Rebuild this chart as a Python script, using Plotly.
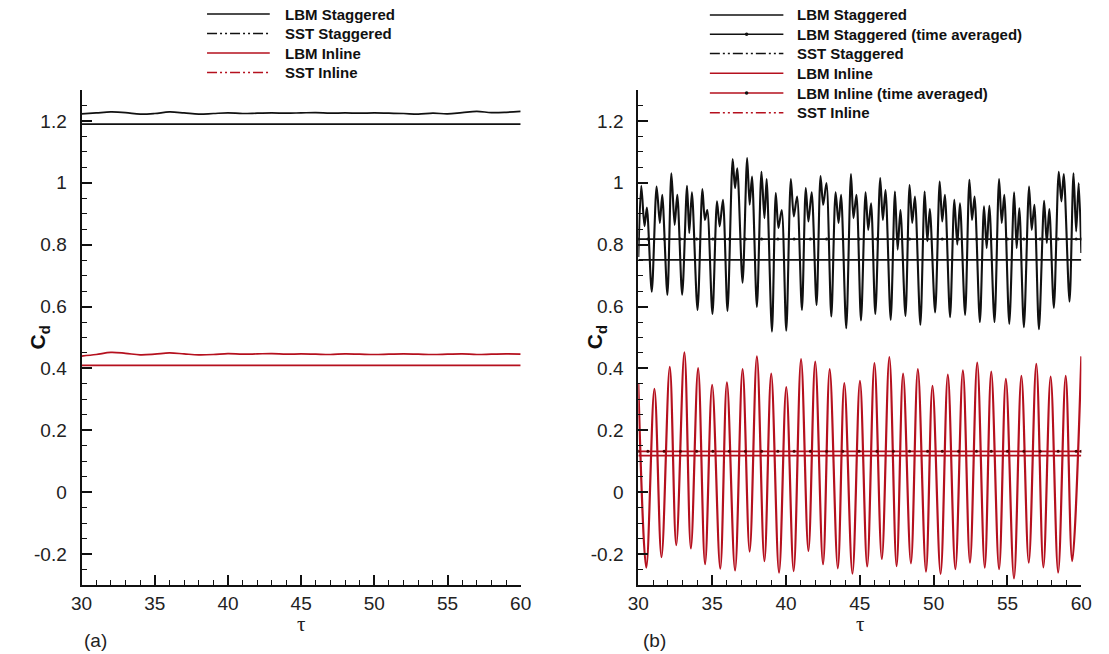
import plotly.graph_objects as go

# ---------------- data ----------------
# panel (a)
a_tau = list(range(30, 61))
a_lbm_stag = [1.223, 1.226, 1.229, 1.227, 1.222, 1.224, 1.229, 1.226, 1.222, 1.224, 1.226,
              1.224, 1.225, 1.226, 1.225, 1.226, 1.227, 1.225, 1.226, 1.225, 1.226, 1.225,
              1.224, 1.222, 1.225, 1.223, 1.227, 1.231, 1.227, 1.228, 1.231]
a_lbm_inl = [0.440, 0.445, 0.452, 0.449, 0.444, 0.446, 0.450, 0.447, 0.444, 0.445, 0.448,
             0.446, 0.447, 0.448, 0.446, 0.447, 0.446, 0.445, 0.447, 0.446, 0.445, 0.446,
             0.447, 0.446, 0.445, 0.446, 0.447, 0.445, 0.446, 0.447, 0.446]
sst_tau = [30, 60]
a_sst_stag = [1.19, 1.19]
a_sst_inl = [0.41, 0.41]

# panel (b) - LBM staggered (extrema)
b_stag_tau = [30.00, 30.20, 30.42, 30.58, 30.91, 31.24, 31.46, 31.62, 31.97, 32.24, 32.46, 32.64,
              32.97, 33.30, 33.45, 33.63, 34.01, 34.34, 34.51, 34.67, 35.02, 35.33, 35.51, 35.73,
              36.04, 36.39, 36.55, 36.70, 37.06, 37.37, 37.54, 37.70, 38.03, 38.34, 38.54, 38.69,
              39.05, 39.31, 39.49, 39.71, 40.02, 40.33, 40.53, 40.75, 41.08, 41.34, 41.52, 41.74,
              42.07, 42.34, 42.52, 42.74, 43.07, 43.36, 43.56, 43.73, 44.08, 44.40, 44.57, 44.77,
              45.08, 45.39, 45.57, 45.76, 46.05, 46.38, 46.56, 46.74, 47.09, 47.38, 47.56, 47.75,
              48.09, 48.37, 48.55, 48.73, 49.10, 49.39, 49.57, 49.74, 50.10, 50.41, 50.58, 50.76,
              51.11, 51.40, 51.60, 51.78, 52.13, 52.42, 52.60, 52.77, 53.13, 53.41, 53.59, 53.77,
              54.12, 54.43, 54.61, 54.78, 55.12, 55.45, 55.62, 55.80, 56.11, 56.46, 56.64, 56.82,
              57.13, 57.48, 57.66, 57.83, 58.14, 58.47, 58.65, 58.81, 59.20, 59.47, 59.65, 59.82,
              60.00]
b_stag_cd = [0.76, 0.99, 0.86, 0.92, 0.648, 0.988, 0.870, 0.961, 0.638, 1.031, 0.864, 0.961,
             0.638, 0.990, 0.838, 0.969, 0.589, 0.980, 0.880, 0.912, 0.576, 0.940, 0.859, 0.945,
             0.586, 1.077, 0.983, 1.047, 0.677, 1.080, 0.929, 1.020, 0.599, 1.036, 0.886, 1.012,
             0.519, 0.967, 0.854, 0.912, 0.522, 1.012, 0.891, 0.956, 0.589, 0.983, 0.875, 0.969,
             0.605, 1.022, 0.929, 0.999, 0.568, 0.969, 0.870, 0.961, 0.530, 1.028, 0.886, 0.961,
             0.555, 0.969, 0.848, 0.934, 0.576, 1.015, 0.880, 0.977, 0.557, 0.972, 0.784, 0.912,
             0.570, 0.993, 0.870, 0.956, 0.541, 0.972, 0.811, 0.915, 0.581, 1.004, 0.875, 0.961,
             0.566, 0.945, 0.800, 0.934, 0.573, 1.010, 0.880, 0.956, 0.550, 0.924, 0.789, 0.926,
             0.550, 1.012, 0.870, 0.961, 0.544, 0.969, 0.789, 0.918, 0.533, 0.988, 0.848, 0.929,
             0.527, 0.942, 0.806, 0.915, 0.596, 1.036, 0.940, 1.028, 0.616, 1.031, 0.843, 0.999,
             0.773]

# panel (b) - LBM inline (extrema)
b_inl_tau = [30.00, 30.54, 31.09, 31.57, 32.13, 32.57, 33.12, 33.56, 34.05, 34.52, 35.00, 35.55,
             36.00, 36.55, 37.06, 37.54, 38.03, 38.54, 39.00, 39.53, 40.02, 40.52, 41.02, 41.52,
             41.98, 42.51, 42.96, 43.51, 43.95, 44.50, 45.01, 45.50, 45.99, 46.49, 47.00, 47.49,
             47.93, 48.46, 48.93, 49.48, 49.92, 50.47, 50.96, 51.47, 51.98, 52.46, 52.95, 53.46,
             53.90, 54.43, 54.89, 55.44, 55.94, 56.44, 56.95, 57.43, 57.92, 58.43, 58.94, 59.38,
             60.00]
b_inl_cd = [0.35, -0.244, 0.334, -0.210, 0.405, -0.171, 0.452, -0.182, 0.401, -0.233, 0.347, -0.247,
            0.355, -0.253, 0.398, -0.192, 0.439, -0.223, 0.383, -0.260, 0.340, -0.255, 0.430, -0.190,
            0.422, -0.233, 0.398, -0.246, 0.353, -0.263, 0.360, -0.240, 0.417, -0.216, 0.437, -0.239,
            0.383, -0.230, 0.398, -0.257, 0.344, -0.264, 0.380, -0.249, 0.394, -0.228, 0.419, -0.244,
            0.390, -0.249, 0.366, -0.279, 0.376, -0.228, 0.415, -0.243, 0.374, -0.260, 0.376, -0.223,
            0.439]

# time averaged / SST constants in panel (b)
b_avg_tau = [30.0, 30.65, 31.75, 32.85, 33.95, 35.05, 36.15, 37.25, 38.35, 39.45, 40.55, 41.65,
             42.75, 43.85, 44.95, 46.16, 47.27, 48.37, 49.59, 50.58, 51.69, 52.90, 53.90, 55.00,
             56.11, 57.21, 58.43, 59.65, 60.0]
b_stag_avg = 0.818
b_inl_avg = 0.132
b_sst_stag = [0.751, 0.751]
b_sst_inl = [0.118, 0.118]

y_tickvals = [-0.2, 0, 0.2, 0.4, 0.6, 0.8, 1.0, 1.2]
y_ticktext = ["-0.2", "0", "0.2", "0.4", "0.6", "0.8", "1", "1.2"]
x_tickvals = [30, 35, 40, 45, 50, 55, 60]
x_ticktext = ["30", "35", "40", "45", "50", "55", "60"]

legend_a = ["LBM Staggered", "SST Staggered", "LBM Inline", "SST Inline"]
legend_b = ["LBM Staggered", "LBM Staggered (time averaged)", "SST Staggered",
            "LBM Inline", "LBM Inline (time averaged)", "SST Inline"]

# ---------------- style ----------------
W, H = 1109, 654
BLACK = "#111111"
RED = "#b5101e"
DDOT = "10px,3px,2px,3px,2px,3px"
FONT = "Liberation Sans, Arial, sans-serif"

fig = go.Figure()

# panel (a)
fig.add_trace(go.Scatter(x=a_tau, y=a_lbm_stag, mode="lines", line=dict(color=BLACK, width=1.7, shape="spline"),
                         xaxis="x", yaxis="y", showlegend=False))
fig.add_trace(go.Scatter(x=sst_tau, y=a_sst_stag, mode="lines", line=dict(color=BLACK, width=1.7),
                         xaxis="x", yaxis="y", showlegend=False))
fig.add_trace(go.Scatter(x=a_tau, y=a_lbm_inl, mode="lines", line=dict(color=RED, width=1.7, shape="spline"),
                         xaxis="x", yaxis="y", showlegend=False))
fig.add_trace(go.Scatter(x=sst_tau, y=a_sst_inl, mode="lines", line=dict(color=RED, width=1.7),
                         xaxis="x", yaxis="y", showlegend=False))

# panel (b)
fig.add_trace(go.Scatter(x=b_stag_tau, y=b_stag_cd, mode="lines",
                         line=dict(color=BLACK, width=2.1, shape="spline", smoothing=0.8),
                         xaxis="x2", yaxis="y2", showlegend=False))
fig.add_trace(go.Scatter(x=b_avg_tau, y=[b_stag_avg] * len(b_avg_tau), mode="lines+markers",
                         line=dict(color=BLACK, width=1.7), marker=dict(size=3, color=BLACK),
                         xaxis="x2", yaxis="y2", showlegend=False))
fig.add_trace(go.Scatter(x=sst_tau, y=b_sst_stag, mode="lines", line=dict(color=BLACK, width=1.7),
                         xaxis="x2", yaxis="y2", showlegend=False))
fig.add_trace(go.Scatter(x=b_inl_tau, y=b_inl_cd, mode="lines",
                         line=dict(color=RED, width=2.2, shape="spline", smoothing=1.0),
                         xaxis="x2", yaxis="y2", showlegend=False))
fig.add_trace(go.Scatter(x=b_avg_tau, y=[b_inl_avg] * len(b_avg_tau), mode="lines+markers",
                         line=dict(color=RED, width=1.7), marker=dict(size=3, color="#500000"),
                         xaxis="x2", yaxis="y2", showlegend=False))
fig.add_trace(go.Scatter(x=sst_tau, y=b_sst_inl, mode="lines", line=dict(color=RED, width=1.7),
                         xaxis="x2", yaxis="y2", showlegend=False))

# axes
ydom = [1 - 585 / H, 1 - 90 / H]
xdom_a = [72 / W, 520 / W]
xdom_b = [640 / W, 1092 / W]

def xaxis(dom, anchor):
    return dict(domain=dom, anchor=anchor, range=[30, 60], tickmode="array", tickvals=x_tickvals,
                ticktext=x_ticktext, ticks="inside", ticklen=10, tickwidth=2, tickcolor=BLACK,
                showline=True, linecolor=BLACK, linewidth=2, showgrid=False, zeroline=False,
                tickfont=dict(family=FONT, size=19, color="#222"),
                minor=dict(tick0=30, dtick=1, ticks="inside", ticklen=5, tickwidth=1, tickcolor=BLACK, showgrid=False))

def yaxis(anchor):
    return dict(domain=ydom, anchor=anchor, range=[-0.3, 1.3], tickmode="array", tickvals=y_tickvals,
                ticktext=y_ticktext, ticks="inside", ticklen=10, tickwidth=2, tickcolor=BLACK,
                showline=True, linecolor=BLACK, linewidth=2, showgrid=False, zeroline=False,
                ticklabelstandoff=9,
                tickfont=dict(family=FONT, size=19, color="#222"),
                minor=dict(tick0=0, dtick=0.05, ticks="inside", ticklen=5, tickwidth=1, tickcolor=BLACK, showgrid=False))

fig.update_layout(
    width=W, height=H, margin=dict(l=0, r=0, t=0, b=0),
    paper_bgcolor="white", plot_bgcolor="white",
    xaxis=xaxis(xdom_a, "y"), yaxis=yaxis("x"),
    xaxis2=xaxis(xdom_b, "y2"), yaxis2=yaxis("x2"),
)

shapes = []
annotations = []

def px(x):
    return x / W

def py(y):
    return 1 - y / H

def legend_entry(x0, x1, y, color, dash=None, marker=False, text="", tx=0):
    shapes.append(dict(type="line", xref="paper", yref="paper", x0=px(x0), x1=px(x1), y0=py(y), y1=py(y),
                       line=dict(color=color, width=1.6, dash=dash if dash else "solid")))
    if marker:
        xm = (x0 + x1) / 2
        shapes.append(dict(type="circle", xref="paper", yref="paper", x0=px(xm - 1.8), x1=px(xm + 1.8),
                           y0=py(y + 1.8), y1=py(y - 1.8), fillcolor=BLACK, line=dict(color=BLACK, width=0)))
    annotations.append(dict(xref="paper", yref="paper", x=px(tx), y=py(y), xanchor="left", yanchor="middle",
                            text="<b>" + text + "</b>", showarrow=False,
                            font=dict(family=FONT, size=15, color=BLACK)))

# legend (a)
rows_a = [14, 33.5, 53, 72.5]
styles_a = [(BLACK, None), (BLACK, DDOT), (RED, None), (RED, DDOT)]
for (c, d), y, t in zip(styles_a, rows_a, legend_a):
    legend_entry(200, 264, y, c, d, False, t, 277)

# legend (b)
rows_b = [15, 34.3, 53.5, 73.3, 93, 112.7]
styles_b = [(BLACK, None, False), (BLACK, None, True), (BLACK, DDOT, False),
            (RED, None, False), (RED, None, True), (RED, DDOT, False)]
for (c, d, m), y, t in zip(styles_b, rows_b, legend_b):
    legend_entry(713, 788, y, c, d, m, t, 800)

# axis titles and panel labels
for xc in (296, 866):
    annotations.append(dict(xref="paper", yref="paper", x=px(xc), y=py(624), text="τ", showarrow=False,
                            xanchor="center", yanchor="middle",
                            font=dict(family="Liberation Serif, serif", size=21, color="#222")))
for xc in (29, 597):
    annotations.append(dict(xref="paper", yref="paper", x=px(xc), y=py(337), text="<b>C<sub>d</sub></b>",
                            showarrow=False, textangle=-90, xanchor="center", yanchor="middle",
                            font=dict(family=FONT, size=21, color=BLACK)))
for xc, lab in ((86, "(a)"), (657, "(b)")):
    annotations.append(dict(xref="paper", yref="paper", x=px(xc), y=py(640), text=lab, showarrow=False,
                            xanchor="center", yanchor="middle",
                            font=dict(family=FONT, size=19, color="#222")))

fig.update_layout(shapes=shapes, annotations=annotations)
fig.write_html("out.html")
